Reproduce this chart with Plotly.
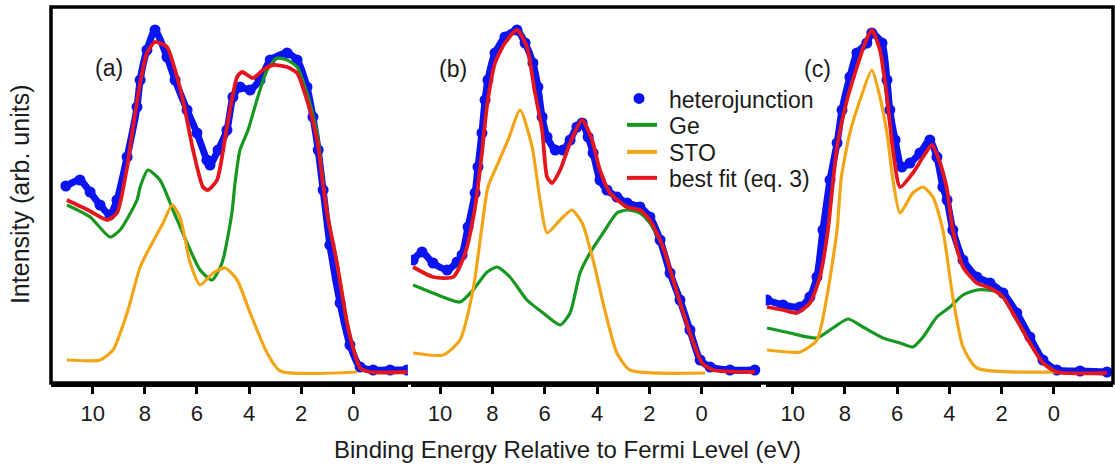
import plotly.graph_objects as go

# ---------------- data (binding energy in eV, intensity in arb. units) ----------------
# Panel (a)
a_exp_e = [11.03, 10.49, 10.10, 9.72, 9.34, 9.07, 8.68, 8.30, 8.18, 7.92, 7.61, 7.15, 6.84, 6.38, 6.00,
           5.62, 5.50, 5.19, 4.85, 4.62, 4.35, 3.96, 3.58, 3.19, 2.54, 2.16, 1.78, 1.55, 1.35, 1.16,
           0.90, 0.51, 0.13, -0.26, -0.76, -1.41, -2.06]
a_exp_i = [197, 203, 191, 178, 168, 183, 226, 276, 303, 333, 353, 326, 303, 273, 250,
           223, 218, 233, 253, 286, 296, 293, 303, 323, 330, 323, 296, 266, 233, 193,
           138, 80, 38, 16, 13, 13, 13]
a_fit_e = [10.99, 10.18, 9.45, 9.07, 8.68, 8.45, 8.18, 7.92, 7.61, 7.15, 6.92, 6.54, 6.15, 5.77, 5.58,
           5.23, 4.85, 4.46, 4.27, 3.85, 3.47, 3.08, 2.54, 2.16, 1.78, 1.39, 1.16, 1.01, 0.63, 0.24,
           -0.07, -0.26, -0.64, -2.06]
a_fit_i = [183, 173, 163, 170, 216, 256, 300, 330, 341, 336, 320, 283, 233, 196, 193,
           203, 256, 306, 311, 305, 313, 318, 316, 310, 283, 243, 198, 170, 120, 60,
           28, 15, 11, 11]
a_ge_e = [10.99, 10.10, 9.34, 8.95, 8.30, 8.18, 7.88, 7.42, 6.92, 6.38, 5.88, 5.42, 5.04, 4.66, 4.54,
          4.35, 4.04, 3.70, 3.31, 2.93, 2.54, 2.16, 1.78, 1.39, 1.16, 1.01, 0.63, 0.24, -0.07, -0.26, -0.64]
a_ge_i = [178, 166, 146, 153, 183, 196, 213, 203, 173, 140, 113, 103, 120, 170, 200,
          233, 253, 283, 313, 325, 323, 316, 290, 250, 200, 170, 120, 60, 28, 15, 11]
a_sto_e = [10.99, 9.72, 9.22, 8.68, 8.18, 7.80, 7.30, 6.95, 6.65, 6.26, 5.88, 5.38, 4.92, 4.46, 3.96,
           3.31, 2.81, -0.14]
a_sto_i = [23, 23, 33, 70, 116, 136, 160, 178, 166, 120, 98, 110, 115, 103, 70,
           30, 12, 11]

# Panel (b)
b_exp_e = [11.03, 10.69, 10.27, 9.73, 9.35, 9.16, 8.93, 8.66, 8.55, 8.40, 8.28, 8.17, 7.90, 7.52, 7.06,
           6.75, 6.45, 6.26, 6.10, 5.91, 5.60, 5.30, 5.03, 4.77, 4.57, 4.34, 4.15, 3.89, 3.62, 3.24,
           2.85, 2.36, 1.98, 1.59, 1.21, 0.83, 0.45, 0.06, -0.32, -1.08, -2.03]
b_exp_i = [123, 131, 120, 113, 121, 128, 156, 190, 216, 250, 283, 303, 330, 346, 353,
           340, 320, 296, 266, 246, 233, 233, 243, 256, 260, 246, 230, 203, 193, 186,
           180, 176, 166, 143, 110, 83, 53, 23, 16, 13, 13]
b_fit_e = [11.03, 10.27, 9.50, 9.04, 8.66, 8.40, 8.21, 7.90, 7.52, 7.06, 6.68, 6.37, 6.10, 5.91, 5.72,
           5.41, 5.03, 4.57, 4.19, 3.89, 3.50, 2.85, 2.36, 1.98, 1.48, 0.94, 0.45, -0.01, -0.43, -2.03]
b_fit_i = [116, 106, 106, 130, 176, 230, 276, 320, 340, 353, 336, 290, 253, 206, 200,
           213, 240, 263, 243, 213, 190, 176, 173, 163, 136, 90, 50, 20, 13, 11]
b_ge_e = [11.03, 10.27, 9.24, 8.74, 8.20, 7.82, 7.33, 6.68, 6.06, 5.41, 5.03, 4.65, 4.27, 3.77, 3.24,
          2.85, 2.36, 1.98, 1.48, 0.94, 0.45, -0.01, -0.43]
b_ge_i = [98, 90, 81, 93, 111, 116, 106, 83, 70, 58, 70, 110, 130, 150, 170,
          173, 170, 160, 136, 90, 50, 20, 13]
b_sto_e = [11.03, 9.88, 9.24, 8.74, 8.40, 8.17, 7.78, 7.40, 6.94, 6.48, 6.18, 5.91, 5.41, 4.96, 4.57,
           4.15, 3.77, 3.24, 2.74, -0.13]
b_sto_i = [30, 28, 43, 93, 156, 196, 220, 243, 273, 236, 183, 150, 163, 173, 160,
           123, 80, 30, 13, 10]

# Panel (c)
c_exp_e = [10.98, 10.37, 9.72, 9.34, 9.07, 8.84, 8.57, 8.30, 8.11, 7.81, 7.54, 7.16, 6.97, 6.58, 6.39,
           6.28, 6.08, 5.82, 5.51, 5.13, 4.75, 4.48, 4.25, 4.09, 3.87, 3.48, 2.95, 2.45, 1.95, 1.42,
           0.92, 0.42, -0.11, -1.00, -2.03]
c_exp_i = [83, 78, 76, 86, 106, 153, 203, 240, 273, 306, 330, 340, 350, 340, 303,
           273, 243, 216, 220, 230, 243, 226, 196, 183, 153, 123, 106, 100, 90, 70,
           46, 23, 13, 12, 11]
c_fit_e = [10.98, 10.37, 9.84, 9.34, 8.96, 8.65, 8.50, 8.30, 7.92, 7.54, 7.23, 6.97, 6.66, 6.39, 6.16,
           5.89, 5.40, 5.01, 4.67, 4.36, 4.09, 3.87, 3.48, 2.95, 2.45, 1.95, 1.42, 0.92, 0.42, -0.11, -2.03]
c_fit_i = [76, 73, 70, 80, 106, 153, 190, 236, 283, 316, 340, 353, 333, 286, 233,
           196, 210, 226, 238, 220, 193, 153, 116, 100, 95, 86, 63, 40, 20, 11, 10]
c_ge_e = [10.98, 10.10, 9.07, 8.46, 7.88, 7.31, 6.54, 5.89, 5.40, 5.01, 4.48, 3.98, 3.48, 2.95, 2.56,
          2.18, 1.95, 1.42, 0.92, 0.42, -0.11]
c_ge_i = [55, 50, 45, 55, 64, 56, 45, 40, 36, 46, 66, 76, 88, 93, 93,
          91, 86, 63, 40, 20, 11]
c_sto_e = [10.98, 9.72, 9.07, 8.69, 8.30, 8.14, 7.81, 7.42, 6.97, 6.66, 6.39, 6.16, 5.89, 5.40, 5.01,
           4.63, 4.25, 3.87, 3.48, 2.95, -0.11]
c_sto_i = [33, 31, 43, 86, 153, 205, 250, 283, 313, 286, 250, 203, 170, 190, 196,
           186, 153, 86, 36, 15, 11]

panel_labels = ["(a)", "(b)", "(c)"]
tick_vals = [10, 8, 6, 4, 2, 0]
tick_text = ["10", "8", "6", "4", "2", "0"]
series_names = ["heterojunction", "Ge", "STO", "best fit (eq. 3)"]

# ---------------- styling ----------------
BLUE = "#0a14f0"
GREEN = "#16971f"
ORANGE = "#f2a516"
RED = "#e4151c"
FONT = "Liberation Sans, Arial, sans-serif"
TXT = "#1b1b1b"

panels = [
    (a_exp_e, a_exp_i, a_ge_e, a_ge_i, a_sto_e, a_sto_i, a_fit_e, a_fit_i),
    (b_exp_e, b_exp_i, b_ge_e, b_ge_i, b_sto_e, b_sto_i, b_fit_e, b_fit_i),
    (c_exp_e, c_exp_i, c_ge_e, c_ge_i, c_sto_e, c_sto_i, c_fit_e, c_fit_i),
]
domains = [[0.0, 0.336], [0.339, 0.669], [0.673, 1.0]]
ranges = [[11.60, -2.09], [11.11, -2.285], [11.03, -2.26]]

fig = go.Figure()
for k, (ee, ei, ge, gi, se, si, fe, fi) in enumerate(panels):
    xa = "x" if k == 0 else f"x{k + 1}"
    # dense band of experimental points
    fig.add_trace(go.Scatter(x=ee, y=ei, xaxis=xa, yaxis="y", mode="lines",
                             line=dict(color=BLUE, width=7, shape="spline", smoothing=0.6),
                             showlegend=False, hoverinfo="skip"))
    fig.add_trace(go.Scatter(x=ee, y=ei, xaxis=xa, yaxis="y", mode="markers",
                             marker=dict(color=BLUE, size=11), name=series_names[0],
                             showlegend=False))
    fig.add_trace(go.Scatter(x=ge, y=gi, xaxis=xa, yaxis="y", mode="lines",
                             line=dict(color=GREEN, width=3.2, shape="spline", smoothing=0.6),
                             name=series_names[1], showlegend=False))
    fig.add_trace(go.Scatter(x=se, y=si, xaxis=xa, yaxis="y", mode="lines",
                             line=dict(color=ORANGE, width=3.2, shape="spline", smoothing=0.6),
                             name=series_names[2], showlegend=False))
    fig.add_trace(go.Scatter(x=fe, y=fi, xaxis=xa, yaxis="y", mode="lines",
                             line=dict(color=RED, width=3.8, shape="spline", smoothing=0.6),
                             name=series_names[3], showlegend=False))

axis_common = dict(
    tickmode="array", tickvals=tick_vals, ticktext=tick_text,
    ticks="outside", ticklen=7, tickwidth=3, tickcolor="black",
    showline=True, linewidth=3.5, linecolor="black",
    showgrid=False, zeroline=False, anchor="y",
    tickfont=dict(family=FONT, size=22, color=TXT),
    ticklabelstandoff=1,
)
layout_axes = {}
for k in range(3):
    name = "xaxis" if k == 0 else f"xaxis{k + 1}"
    layout_axes[name] = dict(axis_common, domain=domains[k], range=ranges[k])

fig.update_layout(
    width=1115, height=468,
    margin=dict(l=51, r=2, t=7, b=85),
    paper_bgcolor="white", plot_bgcolor="white",
    yaxis=dict(range=[0, 376], domain=[0, 1], anchor="x", showticklabels=False,
               showgrid=False, zeroline=False, ticks="", showline=False),
    showlegend=False,
    font=dict(family=FONT, color=TXT),
    **layout_axes,
)

# outer frame
fig.add_shape(type="rect", xref="paper", yref="paper", x0=0, x1=1, y0=0, y1=1,
              line=dict(color="black", width=3.5), layer="above")

# legend (keys + labels) placed inside panel (b)/(c) area as in the original
LEG_FONT = dict(family=FONT, size=23, color=TXT)
leg_text_x = 0.580
leg_rows_y = [0.7527, 0.6835, 0.6117, 0.5426]
leg_colors = [BLUE, GREEN, ORANGE, RED]
for name, yy, col in zip(series_names, leg_rows_y, leg_colors):
    fig.add_annotation(text=name, xref="paper", yref="paper", x=leg_text_x, y=yy,
                       showarrow=False, xanchor="left", yanchor="middle", font=LEG_FONT)
fig.add_shape(type="circle", xref="paper", yref="paper",
              x0=0.5537 - 0.0052, x1=0.5537 + 0.0052,
              y0=leg_rows_y[0] + 0.004 - 0.0146, y1=leg_rows_y[0] + 0.004 + 0.0146,
              fillcolor=BLUE, line=dict(color=BLUE, width=0), layer="above")
for yy, col in zip(leg_rows_y[1:], leg_colors[1:]):
    fig.add_shape(type="line", xref="paper", yref="paper", x0=0.5424, x1=0.5706,
                  y0=yy + 0.003, y1=yy + 0.003, line=dict(color=col, width=4), layer="above")

# panel labels
label_pos = [(0.0545, 0.838), (0.379, 0.836), (0.722, 0.834)]
for txt, (px_, py_) in zip(panel_labels, label_pos):
    fig.add_annotation(text=txt, xref="paper", yref="paper", x=px_, y=py_,
                       showarrow=False, font=dict(family=FONT, size=23, color=TXT),
                       xanchor="center", yanchor="middle")

# axis titles
fig.add_annotation(text="Binding Energy Relative to Fermi Level (eV)", xref="paper", yref="paper",
                   x=0.486, y=-0.178, showarrow=False, xanchor="center", yanchor="middle",
                   font=dict(family=FONT, size=24, color=TXT))
fig.add_annotation(text="Intensity (arb. units)", xref="paper", yref="paper",
                   x=-0.029, y=0.503, showarrow=False, xanchor="center", yanchor="middle",
                   textangle=-90, font=dict(family=FONT, size=25, color=TXT))

fig.write_html("out.html", config={"displayModeBar": False},
               post_script="document.body.style.margin='0';document.body.style.overflow='hidden';")
